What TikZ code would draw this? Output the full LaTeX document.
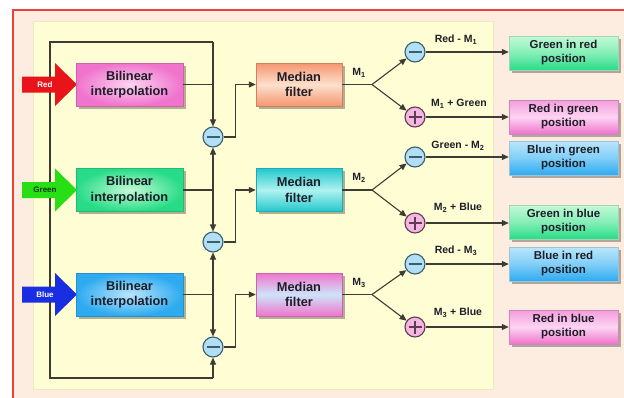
\documentclass[tikz,border=0pt]{standalone}
\usepackage{fontspec}
\setmainfont{Liberation Sans}
\usetikzlibrary{arrows.meta,shadows}
\definecolor{lc}{RGB}{60,60,50}
\definecolor{peach}{RGB}{252,237,224}
\definecolor{panel}{RGB}{255,253,212}
\definecolor{panelb}{RGB}{240,232,190}
\definecolor{frame}{RGB}{238,62,62}
\definecolor{cbm}{RGB}{55,95,110}
\definecolor{cbp}{RGB}{95,60,85}
\definecolor{minusf}{RGB}{178,222,246}
\definecolor{plusf}{RGB}{246,182,226}
\definecolor{pinkE}{RGB}{240,115,205}
\definecolor{pinkC}{RGB}{252,212,242}
\definecolor{greenE}{RGB}{40,220,135}
\definecolor{greenC}{RGB}{195,250,215}
\definecolor{blueE}{RGB}{45,170,240}
\definecolor{blueC}{RGB}{185,230,252}
\definecolor{salE}{RGB}{245,150,112}
\definecolor{salC}{RGB}{253,224,205}
\definecolor{cyanE}{RGB}{35,200,205}
\definecolor{cyanC}{RGB}{175,242,240}
\definecolor{lblue}{RGB}{205,228,250}
\definecolor{txt}{RGB}{30,30,40}
\definecolor{arrR}{RGB}{232,20,25}
\definecolor{arrG}{RGB}{40,222,20}
\definecolor{arrB}{RGB}{25,45,225}
\begin{document}
\begin{tikzpicture}[x=1pt,y=-1pt,
  line/.style={draw=lc,line width=1.1pt},
  arr/.style={line,-{Triangle[length=7pt,width=6pt]}},
  shad/.style={drop shadow={shadow xshift=2.5pt,shadow yshift=-2.5pt,fill=black,opacity=0.3}},
  bilin/.style 2 args={rectangle,shad,draw=#1!85!black,line width=0.4pt,inner color=#2,outer color=#1,
     minimum width=107pt,minimum height=43pt,align=center,text=txt,
     font=\bfseries\fontsize{12.8}{15.5}\selectfont},
  vbox/.style n args={3}{rectangle,shad,draw=#1!85!black,line width=0.4pt,top color=#1,bottom color=#3,middle color=#2,
     align=center,text=txt},
  med/.style={minimum width=86pt,minimum height=43pt,font=\bfseries\fontsize{12.8}{15.5}\selectfont},
  outb/.style={minimum width=109pt,minimum height=34pt,font=\bfseries\fontsize{11.5}{14}\selectfont},
  lab/.style={text=txt,font=\bfseries\fontsize{10.5}{12}\selectfont},
  minusc/.style={circle,minimum size=20pt,inner sep=0pt,draw=cbm,line width=1.1pt,fill=minusf,
     path picture={\draw[cbm,line width=1.3pt] ([xshift=-6.5pt]path picture bounding box.center) -- ([xshift=6.5pt]path picture bounding box.center);}},
  plusc/.style={circle,minimum size=20pt,inner sep=0pt,draw=cbp,line width=1.1pt,fill=plusf,
     path picture={\draw[cbp,line width=1.3pt] ([xshift=-6.5pt]path picture bounding box.center) -- ([xshift=6.5pt]path picture bounding box.center)
        ([yshift=-6.5pt]path picture bounding box.center) -- ([yshift=6.5pt]path picture bounding box.center);}},
  arrtxt/.style={font=\bfseries\fontsize{8}{9}\selectfont,inner sep=0pt}
]
\useasboundingbox (0,0) rectangle (624,397);
% background
\fill[white] (0,0) rectangle (624,397);
\fill[peach] (13,10) rectangle (630,402);
\draw[frame,line width=2pt] (13,402) -- (13,10) -- (630,10);
\filldraw[fill=panel,draw=panelb,line width=0.8pt] (33,21) rectangle (493,389);

% coordinates of feedback loop
\coordinate (fTL) at (50,42);
\coordinate (fTR) at (213,42);
\coordinate (fBL) at (50,378);
\coordinate (fBR) at (213,378);
\draw[line] (fTR) -- (fTL) -- (fBL) -- (fBR);

% input arrows
\foreach \cy/\col in {84.5/arrR,190/arrG,294.5/arrB}{
  \fill[\col] (22,\cy-8) -- (55,\cy-8) -- (55,\cy-21.5) -- (77,\cy) -- (55,\cy+21.5) -- (55,\cy+8) -- (22,\cy+8) -- cycle;
}
\node[arrtxt,text=white] (tR) at (45,84.5) {Red};
\node[arrtxt,text=black!80!green] (tG) at (45,190) {Green};
\node[arrtxt,text=white] (tB) at (45,294.5) {Blue};

% bilinear boxes
\node[bilin={pinkE}{pinkC}] (bR) at (129.5,84.5) {Bilinear\\interpolation};
\node[bilin={greenE}{greenC}] (bG) at (129.5,190) {Bilinear\\interpolation};
\node[bilin={blueE}{blueC}] (bB) at (129.5,294.5) {Bilinear\\interpolation};

% difference circles
\node[minusc] (d1) at (213,137) {};
\node[minusc] (d2) at (213,242) {};
\node[minusc] (d3) at (213,347) {};

% median filters
\node[vbox={salE}{salC}{salE},med] (mR) at (299,84.5) {Median\\filter};
\node[vbox={cyanE}{cyanC}{cyanE},med] (mG) at (299,190) {Median\\filter};
\node[vbox={pinkE}{lblue}{pinkE},med] (mB) at (299,294.5) {Median\\filter};

% branch points
\coordinate (j1) at (372,84.5);
\coordinate (j2) at (372,190);
\coordinate (j3) at (372,294.5);

% right circles
\node[minusc] (s1) at (415,52) {};
\node[plusc] (p1) at (415,117) {};
\node[minusc] (s2) at (415,157) {};
\node[plusc] (p2) at (415,223) {};
\node[minusc] (s3) at (415,264) {};
\node[plusc] (p3) at (415,327) {};

% output boxes
\node[vbox={greenC}{greenC!60!greenE}{greenE},outb] (o1) at (563.5,53) {Green in red\\position};
\node[vbox={pinkE!70!white}{pinkC}{pinkE},outb] (o2) at (563.5,117) {Red in green\\position};
\node[vbox={blueC}{blueC!60!blueE}{blueE},outb] (o3) at (563.5,158) {Blue in green\\position};
\node[vbox={greenC}{greenC!60!greenE}{greenE},outb] (o4) at (563.5,222) {Green in blue\\position};
\node[vbox={blueC}{blueC!60!blueE}{blueE},outb] (o5) at (563.5,264) {Blue in red\\position};
\node[vbox={pinkE!70!white}{pinkC}{pinkE},outb] (o6) at (563.5,327) {Red in blue\\position};

% connectors: bilinear to vertical bus
\draw[line] (bR.east) -- (bR.east -| d1);
\draw[line] (bG.east) -- (bG.east -| d1);
\draw[line] (bB.east) -- (bB.east -| d1);
\draw[arr] (fTR) -- (d1.north);
\draw[arr] (bG.east -| d1) -- (d1.south);
\draw[arr] (bG.east -| d1) -- (d2.north);
\draw[arr] (bB.east -| d1) -- (d2.south);
\draw[arr] (bB.east -| d1) -- (d3.north);
\draw[arr] (fBR) -- (d3.south);

% circles to median filters
\draw[arr] (d1.east) -- ++(12,0) |- (mR.west);
\draw[arr] (d2.east) -- ++(12,0) |- (mG.west);
\draw[arr] (d3.east) -- ++(12,0) |- (mB.west);

% median outputs and branches
\draw[line] (mR.east) -- (j1);
\draw[line] (mG.east) -- (j2);
\draw[line] (mB.east) -- (j3);
\draw[arr] (j1) -- (s1);
\draw[arr] (j1) -- (p1);
\draw[arr] (j2) -- (s2);
\draw[arr] (j2) -- (p2);
\draw[arr] (j3) -- (s3);
\draw[arr] (j3) -- (p3);

% circles to outputs
\draw[arr] (s1.east) -- (o1.west |- s1.east);
\draw[arr] (p1.east) -- (o2.west |- p1.east);
\draw[arr] (s2.east) -- (o3.west |- s2.east);
\draw[arr] (p2.east) -- (o4.west |- p2.east);
\draw[arr] (s3.east) -- (o5.west |- s3.east);
\draw[arr] (p3.east) -- (o6.west |- p3.east);

% labels
\node[lab] (m1) at (359,73) {M\textsubscript{1}};
\node[lab] (m2) at (359,178) {M\textsubscript{2}};
\node[lab] (m3) at (359,283) {M\textsubscript{3}};
\node[lab] (l1) at (456,40) {Red - M\textsubscript{1}};
\node[lab] (l2) at (459,104) {M\textsubscript{1} + Green};
\node[lab] (l3) at (458,146) {Green - M\textsubscript{2}};
\node[lab] (l4) at (458,208) {M\textsubscript{2} + Blue};
\node[lab] (l5) at (456,251) {Red - M\textsubscript{3}};
\node[lab] (l6) at (458,313) {M\textsubscript{3} + Blue};
\end{tikzpicture}
\end{document}
